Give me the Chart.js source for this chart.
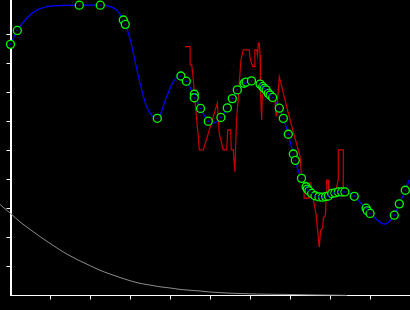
<!DOCTYPE html>
<html>
<head>
<meta charset="utf-8">
<script src="https://cdn.jsdelivr.net/npm/chart.js@4.4.1/dist/chart.umd.min.js"></script>
<style>
  html, body { margin: 0; padding: 0; background: #000; }
  canvas { display: block; }
</style>
</head>
<body>
<canvas id="chart" width="410" height="310"></canvas>
<script>
// smooth blue curve
const blueX = [0.00, 0.17, 0.405, 0.655, 1.06, 1.72, 2.245, 2.49, 2.655, 2.82, 2.87, 2.99, 3.22, 3.405, 3.67, 3.905, 4.07, 4.24, 4.395, 4.595, 4.745, 4.945, 5.07, 5.26, 5.42, 5.545, 5.67, 5.86, 6.02, 6.24, 6.39, 6.555, 6.72, 6.82, 6.945, 7.07, 7.26, 7.42, 7.61, 7.86, 8.13, 8.405, 8.595, 8.92, 9.14, 9.345, 9.595, 9.72, 9.87, 9.97];
const blueY = [8.66, 9.14, 9.56, 9.84, 9.99, 10.01, 10.01, 9.96, 9.84, 9.50, 9.35, 8.84, 7.43, 6.51, 6.11, 6.86, 7.37, 7.57, 7.39, 6.88, 6.46, 6.01, 5.94, 6.14, 6.48, 6.80, 7.09, 7.34, 7.40, 7.29, 7.09, 6.82, 6.46, 6.11, 5.56, 4.88, 4.05, 3.67, 3.43, 3.40, 3.56, 3.57, 3.42, 2.92, 2.64, 2.46, 2.77, 3.16, 3.63, 3.98];

// sample markers on the blue curve
const markX = [0.00, 0.17, 1.72, 2.245, 2.82, 2.87, 3.67, 4.26, 4.395, 4.595, 4.595, 4.75, 4.945, 5.26, 5.42, 5.545, 5.67, 5.84, 5.89, 6.025, 6.24, 6.305, 6.34, 6.39, 6.445, 6.49, 6.555, 6.72, 6.82, 6.945, 7.07, 7.12, 7.275, 7.39, 7.42, 7.46, 7.53, 7.61, 7.71, 7.80, 7.88, 7.945, 8.03, 8.11, 8.195, 8.28, 8.36, 8.595, 8.89, 8.92, 8.99, 9.595, 9.72, 9.87];
const markY = [8.66, 9.14, 10.01, 10.01, 9.50, 9.35, 6.11, 7.57, 7.39, 6.94, 6.82, 6.45, 6.01, 6.14, 6.47, 6.79, 7.09, 7.32, 7.36, 7.40, 7.29, 7.20, 7.14, 7.09, 6.97, 6.91, 6.83, 6.46, 6.11, 5.56, 4.88, 4.66, 4.04, 3.75, 3.67, 3.61, 3.52, 3.44, 3.40, 3.39, 3.41, 3.43, 3.52, 3.54, 3.57, 3.57, 3.57, 3.42, 3.01, 2.92, 2.83, 2.77, 3.16, 3.63];

// noisy red series
const redX = [4.36, 4.49, 4.49, 4.53, 4.555, 4.61, 4.695, 4.72, 4.82, 5.17, 5.22, 5.32, 5.405, 5.43, 5.505, 5.52, 5.57, 5.61, 5.625, 5.65, 5.69, 5.76, 5.82, 5.97, 5.99, 6.055, 6.09, 6.11, 6.155, 6.175, 6.195, 6.22, 6.24, 6.25, 6.28, 6.295, 6.405, 6.53, 6.61, 6.64, 6.67, 6.72, 6.74, 6.99, 7.24, 7.28, 7.34, 7.34, 7.46, 7.46, 7.51, 7.56, 7.64, 7.72, 7.755, 7.805, 7.82, 7.875, 7.89, 7.905, 7.94, 7.96, 8.03, 8.14, 8.19, 8.195, 8.32, 8.32];
const redY = [8.58, 8.58, 7.95, 7.95, 7.66, 6.74, 5.48, 5.02, 5.02, 6.63, 5.59, 5.02, 5.02, 5.71, 5.71, 5.02, 5.02, 4.26, 5.02, 6.05, 6.74, 8.12, 8.47, 8.47, 8.18, 7.89, 7.89, 8.47, 8.47, 8.29, 8.70, 8.70, 8.29, 6.98, 6.05, 6.91, 7.09, 6.86, 6.74, 6.17, 6.63, 7.54, 7.43, 6.05, 4.79, 3.98, 3.88, 3.36, 3.36, 3.88, 3.88, 3.40, 2.78, 1.67, 2.26, 2.33, 2.67, 2.78, 3.40, 3.98, 3.98, 3.53, 3.47, 3.64, 3.98, 5.02, 5.02, 3.40];

// grey decaying curve
const grayX = [-0.2625, 0, 0.2375, 0.4875, 0.7375, 0.9875, 1.2375, 1.4875, 1.7375, 1.9875, 2.2375, 2.4875, 2.7375, 2.9875, 3.2375, 3.4875, 3.7375, 3.9875, 4.2375, 4.4875, 4.7375, 4.9875, 5.2375, 5.4875, 6.155, 6.99, 7.59, 8.41];
const grayY = [3.14, 2.83, 2.54, 2.28, 2.03, 1.80, 1.57, 1.37, 1.19, 1.03, 0.87, 0.74, 0.62, 0.51, 0.42, 0.36, 0.30, 0.26, 0.21, 0.18, 0.155, 0.12, 0.10, 0.08, 0.05, 0.035, 0.02, 0.005];

const xTicks = [1, 2, 3, 4, 5, 6, 7, 8, 9];
const yTicks = [1, 2, 3, 4, 5, 6, 7, 8, 9];

const pts = (xs, ys) => xs.map((x, i) => ({ x: x, y: ys[i] }));

new Chart(document.getElementById('chart'), {
  type: 'line',
  data: {
    datasets: [
      {
        // centre dots of the markers
        data: pts(markX, markY),
        showLine: false,
        pointRadius: 0.8,
        pointBorderWidth: 0,
        pointBackgroundColor: '#0000ff',
        clip: false
      },
      {
        data: pts(markX, markY),
        showLine: false,
        pointRadius: 4,
        pointBorderWidth: 1.3,
        pointBorderColor: '#00ff00',
        pointBackgroundColor: '#000000',
        clip: false
      },
      {
        data: pts(redX, redY),
        borderColor: '#cc0000',
        borderWidth: 1.2,
        pointRadius: 0,
        tension: 0,
        clip: false
      },
      {
        data: pts(blueX, blueY),
        borderColor: '#0000ff',
        borderWidth: 1.2,
        pointRadius: 0,
        cubicInterpolationMode: 'monotone',
        clip: false
      },
      {
        data: pts(grayX, grayY),
        borderColor: '#8c8c8c',
        borderWidth: 1,
        pointRadius: 0,
        cubicInterpolationMode: 'monotone',
        clip: false
      }
    ]
  },
  options: {
    responsive: false,
    animation: false,
    devicePixelRatio: 1,
    layout: { padding: 0, autoPadding: false },
    plugins: {
      legend: { display: false },
      tooltip: { enabled: false }
    },
    scales: {
      x: {
        type: 'linear',
        min: 0,
        max: 9.9875,
        afterFit: (s) => { s.height = 14.5; },
        afterBuildTicks: (s) => { s.ticks = xTicks.map(v => ({ value: v })); },
        ticks: { display: false },
        grid: { drawOnChartArea: false, tickLength: 4, tickColor: '#ffffff', tickWidth: 1 },
        border: { color: '#ffffff', width: 1 }
      },
      y: {
        type: 'linear',
        min: 0,
        max: 10.19,
        afterFit: (s) => { s.width = 10.5; },
        afterBuildTicks: (s) => { s.ticks = yTicks.map(v => ({ value: v })); },
        ticks: { display: false },
        grid: { drawOnChartArea: false, tickLength: 4, tickColor: '#ffffff', tickWidth: 1 },
        border: { color: '#ffffff', width: 2 }
      }
    }
  }
});
</script>
</body>
</html>
